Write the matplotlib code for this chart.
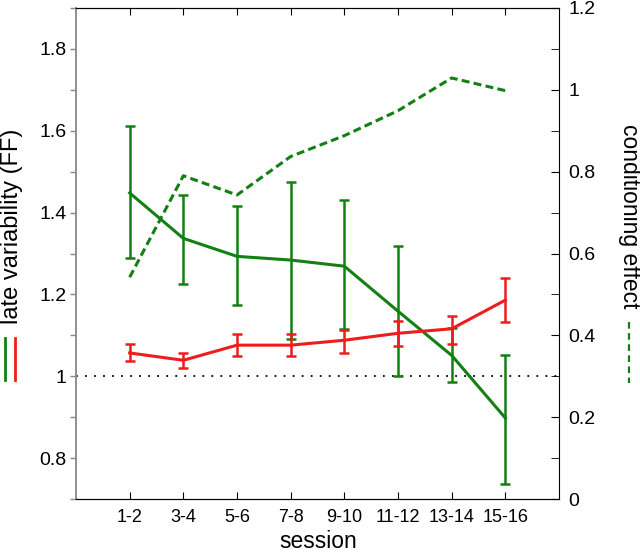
import matplotlib
matplotlib.use('Agg')
import matplotlib.pyplot as plt
from matplotlib.lines import Line2D
import numpy as np

# ---- data ----
sessions = ['1-2', '3-4', '5-6', '7-8', '9-10', '11-12', '13-14', '15-16']
green_ff = [1.448, 1.337, 1.293, 1.284, 1.269, 1.159, 1.051, 0.898]
green_lo = [1.290, 1.225, 1.175, 1.092, 1.115, 1.000, 0.985, 0.737]
green_hi = [1.612, 1.442, 1.416, 1.474, 1.430, 1.318, 1.117, 1.053]
red_ff = [1.057, 1.039, 1.076, 1.076, 1.088, 1.105, 1.116, 1.186]
red_lo = [1.037, 1.021, 1.049, 1.049, 1.058, 1.075, 1.080, 1.132]
red_hi = [1.078, 1.056, 1.104, 1.104, 1.114, 1.134, 1.147, 1.240]
cond_effect = [0.542, 0.790, 0.743, 0.837, 0.888, 0.949, 1.029, 0.998]
left_ticks = [0.8, 1.0, 1.2, 1.4, 1.6, 1.8]
left_ticklabels = ['0.8', '1', '1.2', '1.4', '1.6', '1.8']
right_ticks = [0, 0.2, 0.4, 0.6, 0.8, 1.0, 1.2]
right_ticklabels = ['0', '0.2', '0.4', '0.6', '0.8', '1', '1.2']

plt.rcParams['font.family'] = ['Liberation Sans', 'DejaVu Sans']

GREEN = '#128012'
RED = '#ee1c1c'
W, H = 640, 554

fig = plt.figure(figsize=(6.4, 5.54), dpi=100)
ax = fig.add_axes([76 / W, 55 / H, 483 / W, 491 / H])

x = np.arange(1, len(sessions) + 1)
g = np.array(green_ff)
r = np.array(red_ff)

ax.axhline(1.0, color='black', ls=(0, (1, 4)), lw=1.3, zorder=1)

ax.errorbar(x, g, yerr=[g - np.array(green_lo), np.array(green_hi) - g],
            color=GREEN, lw=2.2, elinewidth=1.8, capsize=3.5, capthick=1.8, zorder=2)
ax.errorbar(x, r, yerr=[r - np.array(red_lo), np.array(red_hi) - r],
            color=RED, lw=2.2, elinewidth=1.8, capsize=3.5, capthick=1.8, zorder=3)

ax.set_xlim(0, 9)
ax.set_ylim(0.7, 1.9)
ax.set_yticks(left_ticks)
ax.set_yticklabels(left_ticklabels)
ax.set_yticks(np.arange(0.7, 1.91, 0.1), minor=True)
ax.set_xticks(x)
ax.set_xticklabels(sessions)
for lbl in ax.get_xticklabels():
    lbl.set_family(['Liberation Sans Narrow', 'Liberation Sans'])

ax.tick_params(axis='y', which='both', direction='out', length=4, width=1,
               color='#888888', labelsize=14, pad=3)
ax.tick_params(axis='x', which='both', direction='in', length=5, top=True,
               labelsize=13, pad=7)
ax.spines['left'].set_color('#888888')
ax.spines['left'].set_linewidth(1.3)
ax.spines['right'].set_visible(False)

ax2 = ax.twinx()
ax2.plot(x, cond_effect, color=GREEN, lw=2.2, ls=(0, (2.6, 1.4)))
ax2.set_ylim(0, 1.2)
ax2.set_yticks(right_ticks)
ax2.set_yticklabels(right_ticklabels)
ax2.set_yticks(np.arange(0, 1.21, 0.1), minor=True)
ax2.tick_params(axis='y', which='both', direction='in', length=6, labelsize=14, pad=7)
ax2.spines['left'].set_visible(False)

# axis labels
fig.text(12 / W, 1 - 226 / H, 'late variability (FF)', rotation=90,
         ha='center', va='center', fontsize=17)
fig.text(629 / W, 1 - 216 / H, 'conditioning effect', rotation=-90,
         ha='center', va='center', fontsize=16.5)
fig.text(318 / W, 6 / H, 'session', ha='center', va='baseline', fontsize=16.5)

# legend-like markers next to labels
fig.add_artist(Line2D([5 / W, 5 / W], [1 - 338 / H, 1 - 380 / H], color=GREEN,
                      lw=2, transform=fig.transFigure))
fig.add_artist(Line2D([15 / W, 15 / W], [1 - 338 / H, 1 - 380 / H], color=RED,
                      lw=2, transform=fig.transFigure))
fig.add_artist(Line2D([629 / W, 629 / W], [1 - 322 / H, 1 - 383 / H], color=GREEN,
                      lw=1.6, ls=(0, (3, 2)), transform=fig.transFigure))

fig.savefig('out.png', dpi=100)
